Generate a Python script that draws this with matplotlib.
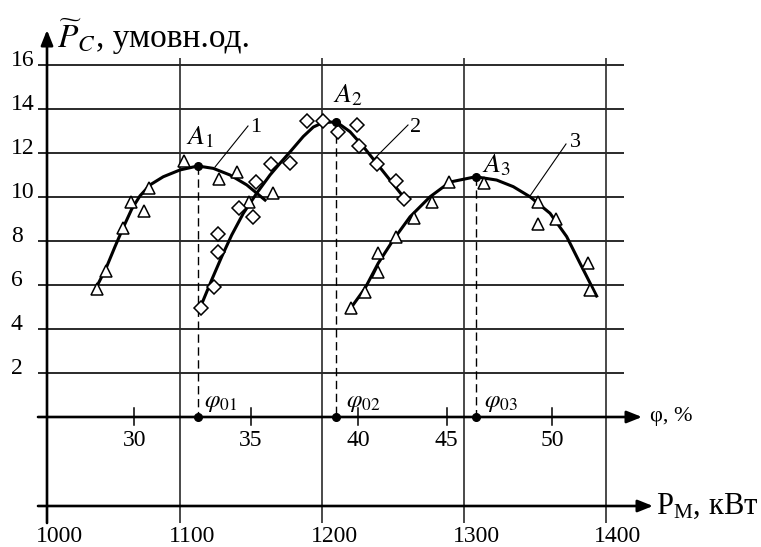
import numpy as np
import matplotlib.pyplot as plt

plt.rcParams['font.family'] = ['Liberation Serif', 'DejaVu Serif']
plt.rcParams['mathtext.fontset'] = 'stix'
plt.rcParams['mathtext.rm'] = 'Liberation Serif'
plt.rcParams['mathtext.it'] = 'Liberation Serif:italic'

# --- data (x = P_M, kW; y = P_C, rel. units) ---
# curve 1, triangles
p1_pts = [1041.8, 1047.9, 1060.1, 1065.3, 1074.9, 1078.0, 1102.8, 1127.5, 1139.9, 1148.8, 1165.3]
y1_pts = [5.80, 6.64, 8.60, 9.79, 9.36, 10.40, 11.64, 10.80, 11.15, 9.79, 10.17]
p1_line = [1041.3, 1047.9, 1054.2, 1060.1, 1066.0, 1071.8, 1078.9, 1088.2, 1100.0, 1112.5,
           1123.5, 1135.2, 1147.0, 1159.9]
y1_line = [5.92, 6.76, 7.74, 8.62, 9.45, 10.05, 10.55, 10.92, 11.23, 11.41,
           11.30, 11.00, 10.55, 9.86]

# curve 2, diamonds
p2_pts = [1114.6, 1123.9, 1126.5, 1126.5, 1141.8, 1151.6, 1153.3, 1163.9, 1177.5, 1189.6,
          1200.9, 1211.5, 1224.9, 1226.1, 1238.9, 1251.9, 1257.7]
y2_pts = [4.94, 5.92, 7.49, 8.30, 9.51, 9.08, 10.70, 11.50, 11.53, 13.45,
          13.45, 12.94, 13.27, 12.32, 11.50, 10.73, 9.90]
p2_line = [1115.3, 1122.3, 1129.4, 1136.4, 1144.6, 1154.0, 1163.4, 1170.4, 1177.5, 1186.8,
           1193.9, 1200.9, 1210.2, 1219.7, 1229.1, 1238.5, 1247.9, 1257.3]
y2_line = [5.14, 6.23, 7.29, 8.27, 9.26, 10.17, 11.00, 11.53, 12.05, 12.75,
           13.18, 13.39, 13.41, 12.97, 12.29, 11.53, 10.77, 10.01]

# curve 3, triangles
p3_pts = [1220.4, 1230.3, 1239.6, 1239.6, 1252.1, 1264.8, 1277.3, 1289.6, 1314.3, 1351.9,
          1351.9, 1364.8, 1387.1, 1388.7]
y3_pts = [4.94, 5.70, 6.60, 7.44, 8.20, 9.03, 9.79, 10.70, 10.62, 9.79,
          8.77, 9.00, 7.01, 5.77]
p3_line = [1219.7, 1230.3, 1239.6, 1250.2, 1262.0, 1276.1, 1290.1, 1308.2, 1323.0, 1334.7,
           1346.5, 1360.6, 1372.3, 1381.7, 1393.4]
y3_line = [4.90, 5.85, 6.99, 8.05, 9.10, 10.01, 10.68, 10.92, 10.77, 10.47,
           10.01, 9.26, 8.20, 6.99, 5.50]

# optimum points A1..A3
pA = [1112.5, 1210.2, 1308.2]
yA = [11.41, 13.41, 10.92]

y_ticks = [2, 4, 6, 8, 10, 12, 14, 16]
p_ticks = [1000, 1100, 1200, 1300, 1400]
phi_ticks = [30, 35, 40, 45, 50]
phi_tick_kw = [1067.8, 1150.0, 1225.4, 1287.7, 1362.2]   # where phi ticks sit on the P scale


def px(x, y):
    # picture pixel -> data coords (used for frame and labels only)
    return 1100 + (x - 180) / 1.42, (417 - y) / 22.0


fig = plt.figure(figsize=(7.61, 5.47), dpi=100)
ax = fig.add_axes([0, 0, 1, 1])
ax.set_xlim(px(0, 0)[0], px(761, 0)[0])
ax.set_ylim(px(0, 547)[1], px(0, 0)[1])
ax.axis('off')

grid_c = '#2a2a2a'
x_left = px(38, 0)[0]
x_right = px(624, 0)[0]
for v in y_ticks:
    ax.plot([x_left, x_right], [v, v], color=grid_c, lw=1.4, solid_capstyle='butt', zorder=1)
    ax.text(px(11, 0)[0], v + 0.2, str(v), fontsize=17, ha='left', va='center')

v_top = px(0, 58)[1]
v_bot = px(0, 523)[1]
for p in p_ticks[1:]:
    ax.plot([p, p], [v_bot, v_top], color=grid_c, lw=1.2, solid_capstyle='butt', zorder=1)

arrow = dict(arrowstyle='-|>,head_length=0.7,head_width=0.28', mutation_scale=13,
             lw=1.9, color='k', shrinkA=0, shrinkB=0)
# y axis
y_ax = px(47, 0)[0]
ax.annotate('', xy=(y_ax, px(0, 30)[1]), xytext=(y_ax, v_bot), arrowprops=arrow, zorder=2)
# phi axis
ax.annotate('', xy=(px(642, 0)[0], 0), xytext=(x_left, 0), arrowprops=arrow, zorder=2)
# P axis
v_pax = px(0, 506)[1]
ax.annotate('', xy=(px(653, 0)[0], v_pax), xytext=(x_left, v_pax), arrowprops=arrow, zorder=2)

# phi ticks and labels
for t, p in zip(phi_ticks, phi_tick_kw):
    ax.plot([p, p], [px(0, 425)[1], px(0, 408)[1]], color='k', lw=1.1, zorder=2)
    ax.text(p, px(0, 441)[1], str(t), fontsize=17, ha='center', va='center')

# P tick labels (sit a bit right of their lines in the original)
for i, p in enumerate(p_ticks):
    xp = y_ax if i == 0 else p
    ax.text(xp + 12 / 1.42, px(0, 537)[1], str(p), fontsize=17, ha='center', va='center')

# curves and points
mk = dict(mfc='white', mec='k', mew=1.1, ls='none', zorder=4)
ax.plot(p1_line, y1_line, color='k', lw=2.2, zorder=3)
ax.plot(p2_line, y2_line, color='k', lw=2.2, zorder=3)
ax.plot(p3_line, y3_line, color='k', lw=2.2, zorder=3)
ax.plot(p1_pts, y1_pts, marker='^', ms=9, **mk)
ax.plot(p2_pts, y2_pts, marker='D', ms=7, **mk)
ax.plot(p3_pts, y3_pts, marker='^', ms=9, **mk)

# optimum points and drops to the phi axis
for p, v in zip(pA, yA):
    ax.plot([p, p], [v, 0], color='k', lw=1.0, dashes=(6, 3.3), zorder=2)
    ax.plot([p, p], [v, 0], 'o', color='k', ms=5.5, zorder=5)

ax.text(*px(186, 144), r'$A_1$', fontsize=20, va='baseline')
ax.text(*px(333, 102), r'$A_2$', fontsize=20, va='baseline')
ax.text(*px(482, 172), r'$A_3$', fontsize=20, va='baseline')

for x0, lab in zip([204, 346, 484], ['01', '02', '03']):
    ax.text(*px(x0, 407), r'$\varphi_{%s}$' % lab, fontsize=18, va='baseline')

# curve numbers with leaders
leaders = [((215, 167), (248, 126), (250, 132), '1'),
           ((373, 160), (408, 125), (410, 132), '2'),
           ((530, 196), (566, 144), (570, 147), '3')]
for a, b, t, lab in leaders:
    pa, pb = px(*a), px(*b)
    ax.plot([pa[0], pb[0]], [pa[1], pb[1]], color='k', lw=0.8, zorder=3)
    ax.text(*px(*t), lab, fontsize=16, va='baseline')

# axis titles
ax.text(*px(57, 47), r'$\widetilde{P}_C$', fontsize=24, va='baseline')
ax.text(*px(96, 47), ', умовн.од.', fontsize=24, va='baseline')
ax.text(*px(650, 416), 'φ, %', fontsize=16, va='center')
ax.text(*px(656, 506), r'Р$_{\mathrm{М}}$, кВт', fontsize=22, va='center',
        math_fontfamily='custom')

fig.savefig('out.png', dpi=100)
